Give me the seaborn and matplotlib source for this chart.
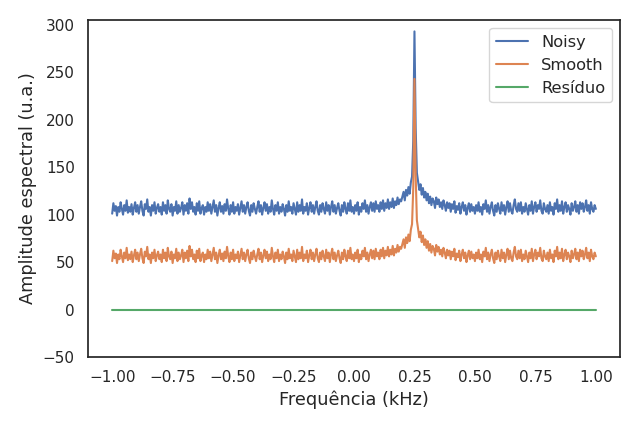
import numpy as np
import matplotlib
matplotlib.use("Agg")
import matplotlib.pyplot as plt
import seaborn as sns

# frequency grid (kHz), 401 samples from -1 to 1
freq_start, freq_stop, n_points = -1.0, 1.0, 401
freq = np.linspace(freq_start, freq_stop, n_points)

# noisy spectrum (peak at 0.25 kHz, index 250)
noisy = [
    101, 112, 104, 109, 99, 108, 103, 113, 106, 100, 110, 104, 115, 102, 108, 103, 111, 100, 107, 113,
    103, 110, 101, 108, 114, 104, 99, 111, 106, 116, 103, 108, 99, 110, 104, 113, 101, 107, 111, 103,
    108, 100, 113, 104, 110, 101, 115, 106, 103, 111, 99, 108, 104, 114, 101, 110, 103, 107, 113, 100,
    110, 104, 112, 101, 117, 106, 113, 103, 108, 100, 112, 104, 114, 101, 107, 110, 100, 108, 103, 113,
    104, 111, 101, 108, 115, 103, 110, 99, 107, 113, 103, 109, 101, 111, 104, 116, 106, 100, 110, 103,
    113, 101, 108, 104, 111, 100, 107, 114, 103, 110, 101, 108, 113, 104, 99, 110, 103, 112, 106, 101,
    108, 114, 103, 110, 100, 107, 113, 104, 111, 101, 108, 103, 115, 106, 100, 110, 104, 113, 101, 108,
    103, 111, 106, 99, 110, 103, 114, 104, 108, 101, 112, 106, 100, 113, 103, 110, 104, 116, 101, 108,
    104, 112, 100, 107, 113, 103, 110, 101, 108, 114, 104, 100, 110, 103, 112, 106, 101, 113, 104, 110,
    100, 108, 114, 103, 110, 101, 107, 112, 104, 99, 110, 103, 113, 106, 101, 112, 104, 115, 103, 108,
    101, 110, 104, 113, 100, 108, 103, 112, 106, 115, 103, 110, 101, 108, 113, 104, 112, 103, 114, 106,
    110, 103, 113, 106, 115, 104, 112, 107, 116, 106, 113, 108, 117, 107, 114, 110, 118, 111, 116, 114,
    119, 124, 115, 126, 120, 129, 122, 134, 140, 178, 293, 191, 144, 135, 126, 132, 121, 128, 118, 124,
    115, 122, 112, 119, 110, 117, 114, 107, 118, 111, 116, 108, 113, 106, 115, 110, 104, 113, 107, 112,
    103, 111, 106, 114, 102, 109, 105, 112, 101, 108, 113, 104, 110, 100, 107, 112, 103, 111, 104, 108,
    101, 110, 104, 113, 103, 108, 100, 111, 106, 115, 103, 110, 101, 108, 113, 104, 99, 110, 103, 112,
    106, 101, 113, 104, 110, 100, 108, 114, 103, 112, 104, 101, 110, 116, 106, 103, 112, 104, 113, 101,
    108, 103, 112, 106, 100, 110, 104, 114, 101, 108, 113, 103, 110, 106, 115, 104, 101, 112, 106, 103,
    110, 101, 113, 104, 108, 100, 112, 106, 116, 103, 110, 104, 114, 101, 108, 113, 103, 110, 106, 100,
    112, 104, 108, 114, 103, 110, 101, 113, 106, 112, 103, 108, 115, 104, 110, 101, 113, 106, 103, 110,
    106,
]
# smooth curve follows the noisy one, about 50 units lower
smooth_offset = 50
smooth = [v - smooth_offset for v in noisy]
residuo = [0] * n_points

sns.set_theme(style="white")
plt.rcParams["axes.labelsize"] = 12.8
plt.rcParams["legend.fontsize"] = 11.7

fig = plt.figure(figsize=(6.39, 4.26), dpi=100)
ax = fig.add_axes([0.1377, 0.162, 0.8326, 0.791])

sns.lineplot(x=freq, y=noisy, label="Noisy", ax=ax)
sns.lineplot(x=freq, y=smooth, label="Smooth", ax=ax)
sns.lineplot(x=freq, y=residuo, label="Resíduo", ax=ax)

ax.set_xlim(-1.1, 1.1)
ax.set_ylim(-50, 305)
ax.set_xlabel("Frequência (kHz)")
ax.set_ylabel("Amplitude espectral (u.a.)")
ax.legend(loc="upper right")

fig.savefig("out.png", dpi=100)
